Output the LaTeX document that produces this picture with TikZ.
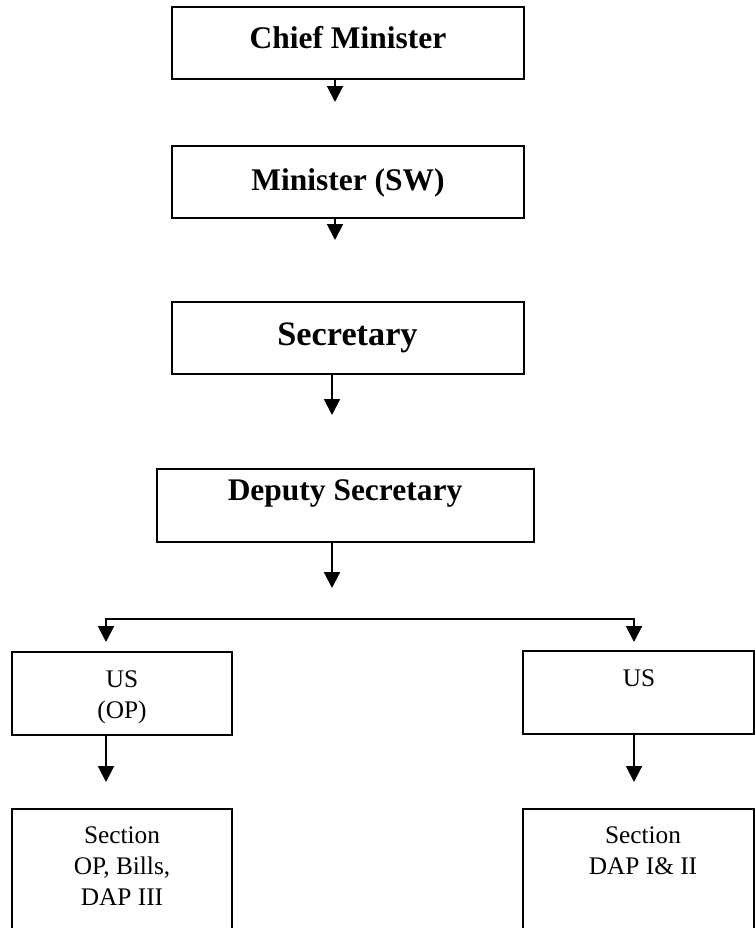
\documentclass[tikz,border=0pt]{standalone}
\usepackage{fontspec}
\setmainfont{Liberation Serif}
\usetikzlibrary{arrows.meta}
\begin{document}
\begin{tikzpicture}[x=0.75pt,y=-0.75pt,
  box/.style={draw, line width=1.5pt, inner sep=0pt},
  arr/.style={line width=1.5pt, -{Triangle[width=12pt,length=12pt]}},
  twoarr/.style={line width=1.5pt, {Triangle[width=12pt,length=12pt]}-{Triangle[width=12pt,length=12pt]}},
  bigtxt/.style={font=\fontsize{23.6}{28}\selectfont\bfseries, anchor=base, inner sep=0pt},
  hugetxt/.style={font=\fontsize{25.7}{30}\selectfont\bfseries, anchor=base, inner sep=0pt},
  smalltxt/.style={font=\fontsize{19}{23.25}\selectfont, anchor=base, inner sep=0pt, align=center}
]
\clip (0,0) rectangle (755,928);
\fill[white] (0,0) rectangle (755,928);

% boxes
\node[box, minimum width=264pt, minimum height=54pt] (chief) at (348,43) {};
\node[box, minimum width=264pt, minimum height=54pt] (minister) at (348,182) {};
\node[box, minimum width=264pt, minimum height=54pt] (secretary) at (348,338) {};
\node[box, minimum width=282.75pt, minimum height=54.75pt] (deputy) at (345.5,505.5) {};
\node[box, minimum width=165pt, minimum height=62.25pt] (usop) at (122,693.5) {};
\node[box, minimum width=173.25pt, minimum height=62.25pt] (usr) at (638.5,692.5) {};
\node[box, minimum width=165pt, minimum height=113.25pt] (secl) at (122,884.5) {};
\node[box, minimum width=173.25pt, minimum height=113.25pt] (secr) at (638.5,884.5) {};

% texts (base anchor = baseline of the last line)
\node[bigtxt] (chieft) at (348,48) {Chief Minister};
\node[bigtxt] (ministert) at (348,190) {Minister (SW)};
\node[hugetxt] (secretaryt) at (347.5,345) {Secretary};
\node[bigtxt] (deputyt) at (345,500) {Deputy Secretary};
\node[smalltxt] (usopt) at (122,718) {US\\(OP)};
\node[smalltxt] (usrt) at (639,686) {US};
\node[smalltxt] (seclt) at (122,905) {Section\\OP, Bills,\\DAP III};
\node[smalltxt] (secrt) at (643,874) {Section\\DAP I\& II};

% arrow end points
\coordinate (a1) at (335,102);
\coordinate (a2) at (335,240);
\coordinate (a3) at (332,415);
\coordinate (a4) at (332,588);
\coordinate (aL) at (106,642);
\coordinate (aR) at (634,642);
\coordinate (hl) at (106,619);
\coordinate (hr) at (634,619);
\coordinate (a5) at (106,782);
\coordinate (a6) at (634,782);

\draw[arr] (chief.south -| a1) -- (a1);
\draw[arr] (minister.south -| a2) -- (a2);
\draw[arr] (secretary.south -| a3) -- (a3);
\draw[arr] (deputy.south -| a4) -- (a4);
\draw[twoarr] (aL) -- (hl) -- (hr) -- (aR);
\draw[arr] (usop.south -| a5) -- (a5);
\draw[arr] (usr.south -| a6) -- (a6);
\end{tikzpicture}
\end{document}
